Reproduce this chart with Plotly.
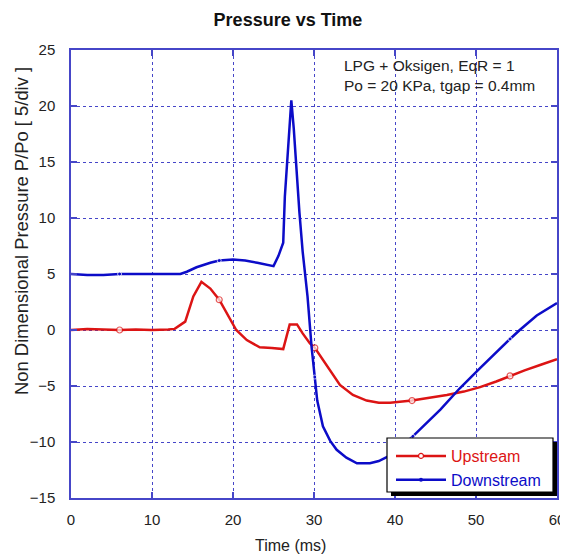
import plotly.graph_objects as go

# ---- data ----
time_up = [0, 2, 4, 6, 8, 10, 12, 12.8, 14.1, 15.1, 16.1, 17.2, 18.3, 19.2, 20.4, 21.7, 23.3, 24.8,
           26.2, 27.0, 27.9, 28.6, 29.5, 30.1, 31.2, 32.3, 33.2, 34.8, 36.5, 38.0, 39.4, 42.1, 44.0,
           46.4, 48.5, 50.5, 52.5, 54.2, 56.0, 58.0, 60.0]
p_up = [0.0, 0.1, 0.05, 0.0, 0.05, 0.0, 0.05, 0.1, 0.75, 3.0, 4.3, 3.7, 2.7, 1.5, 0.0, -0.9, -1.55, -1.6,
        -1.7, 0.5, 0.5, -0.3, -1.2, -1.6, -2.8, -3.9, -4.9, -5.8, -6.3, -6.5, -6.5, -6.3, -6.1,
        -5.8, -5.5, -5.1, -4.6, -4.1, -3.6, -3.1, -2.6]

time_dn = [0, 2, 4, 6, 8, 10, 12, 13.5, 14.3, 15.5, 17.2, 18.3, 20.0, 21.5, 23.0, 24.2, 25.0, 25.6,
           26.2, 26.4, 26.8, 27.0, 27.2, 27.5, 27.8, 28.2, 28.6, 29.2, 29.7, 30.1, 30.4, 31.1, 32.0,
           32.8, 34.0, 35.3, 36.9, 38.0, 39.4, 40.5, 42.2, 45.6, 48.0, 50.5, 53.0, 54.2, 55.4, 57.5, 60.0]
p_dn = [5.0, 4.9, 4.9, 5.0, 5.0, 5.0, 5.0, 5.0, 5.2, 5.6, 6.0, 6.2, 6.3, 6.2, 6.0, 5.8, 5.7, 6.6,
        7.8, 11.9, 16.3, 18.5, 20.5, 18.0, 14.5, 10.5, 7.0, 3.0, -1.5, -4.2, -6.3, -8.6, -9.9,
        -10.7, -11.4, -11.9, -11.9, -11.7, -11.2, -10.6, -9.5, -7.1, -5.2, -3.4, -1.6, -0.8, 0.0, 1.3, 2.4]

marker_times_up = [6, 18.3, 30.1, 42.1, 54.2]
marker_times_dn = [6, 18.3, 30.1, 42.2, 54.2]

x_ticks = [0, 10, 20, 30, 40, 50, 60]
y_ticks = [-15, -10, -5, 0, 5, 10, 15, 20, 25]

RED = "#dc1414"
BLUE = "#0c0cc8"
GRID = "#4646c8"
FONT = "Liberation Sans, Arial, sans-serif"

# page body has an 8px margin: figure is placed at (8, 8)
OFF = 8
W, H = 568 - OFF, 554 - OFF
PL, PR, PT, PB = 71, 557, 50, 498  # plot area in window pixels


def px(xw):
    return (xw - PL) / (PR - PL)


def py(yw):
    return (PB - yw) / (PB - PT)


fig = go.Figure()

fig.add_trace(go.Scatter(
    x=time_up, y=p_up, mode="lines+markers", showlegend=False,
    line=dict(color=RED, width=2.5),
    marker=dict(size=[6 if t in marker_times_up else 0 for t in time_up],
                color="white", line=dict(color=RED, width=1.2), symbol="circle"),
))
fig.add_trace(go.Scatter(
    x=time_dn, y=p_dn, mode="lines+markers", showlegend=False,
    line=dict(color=BLUE, width=2.5),
    marker=dict(size=[4 if t in marker_times_dn else 0 for t in time_dn],
                color=BLUE, symbol="circle"),
))
# legend entries
fig.add_trace(go.Scatter(
    x=[None], y=[None], mode="lines+markers",
    name='<span style="color:%s">Upstream</span>' % RED,
    line=dict(color=RED, width=2.5),
    marker=dict(size=5, color="white", line=dict(color=RED, width=1.2)),
))
fig.add_trace(go.Scatter(
    x=[None], y=[None], mode="lines+markers",
    name='<span style="color:%s">Downstream</span>' % BLUE,
    line=dict(color=BLUE, width=2.5),
    marker=dict(size=4, color=BLUE),
))

axis_common = dict(
    showgrid=True, gridcolor=GRID, griddash="dot", gridwidth=1.3,
    showline=True, linecolor=GRID, linewidth=1.5, mirror="ticks",
    ticks="inside", ticklen=6, tickcolor=GRID, tickwidth=1.5,
    zeroline=False, automargin=False,
    tickfont=dict(family=FONT, size=15, color="#222222"),
)

fig.update_layout(
    width=W, height=H,
    margin=dict(l=PL - OFF, r=W - (PR - OFF), t=PT - OFF, b=H - (PB - OFF), pad=0,
                autoexpand=False),
    paper_bgcolor="white", plot_bgcolor="white",
    title=dict(text="<b>Pressure vs Time</b>", x=(288 - OFF) / W, xanchor="center",
               y=1 - (20 - OFF) / H, yanchor="middle",
               font=dict(family=FONT, size=18, color="#111111")),
    xaxis=dict(range=[0, 60], tickvals=x_ticks, ticklabelstandoff=7, **axis_common),
    yaxis=dict(range=[-15, 25], tickvals=y_ticks, ticklabelstandoff=11, **axis_common),
    legend=dict(x=px(391), xanchor="left", y=py(439), yanchor="top",
                bgcolor="rgba(0,0,0,0)", borderwidth=0,
                font=dict(family=FONT, size=16), itemwidth=50, tracegroupgap=0),
    shapes=[
        dict(type="rect", xref="paper", yref="paper", layer="above",
             x0=px(391), x1=px(557), y0=py(496), y1=py(442),
             fillcolor="black", line=dict(width=0)),
        dict(type="rect", xref="paper", yref="paper", layer="above",
             x0=px(387), x1=px(553), y0=py(492), y1=py(438),
             fillcolor="white", line=dict(color="black", width=1.2)),
    ],
    annotations=[
        dict(text="LPG + Oksigen, EqR = 1<br>Po = 20 KPa, tgap = 0.4mm",
             xref="paper", yref="paper", x=px(342), y=py(55),
             xanchor="left", yanchor="top", align="left", showarrow=False,
             font=dict(family=FONT, size=15.5, color="#222222")),
        dict(text="Time (ms)", xref="paper", yref="paper",
             x=px(290), y=py(545), xanchor="center", yanchor="middle",
             showarrow=False, font=dict(family=FONT, size=16, color="#222222")),
        dict(text="Non Dimensional Pressure P/Po [ 5/div ]", xref="paper", yref="paper",
             x=px(22), y=py(231), xanchor="center", yanchor="middle",
             textangle=-90, showarrow=False,
             font=dict(family=FONT, size=18.4, color="#222222")),
    ],
)

fig.write_html("out.html")
